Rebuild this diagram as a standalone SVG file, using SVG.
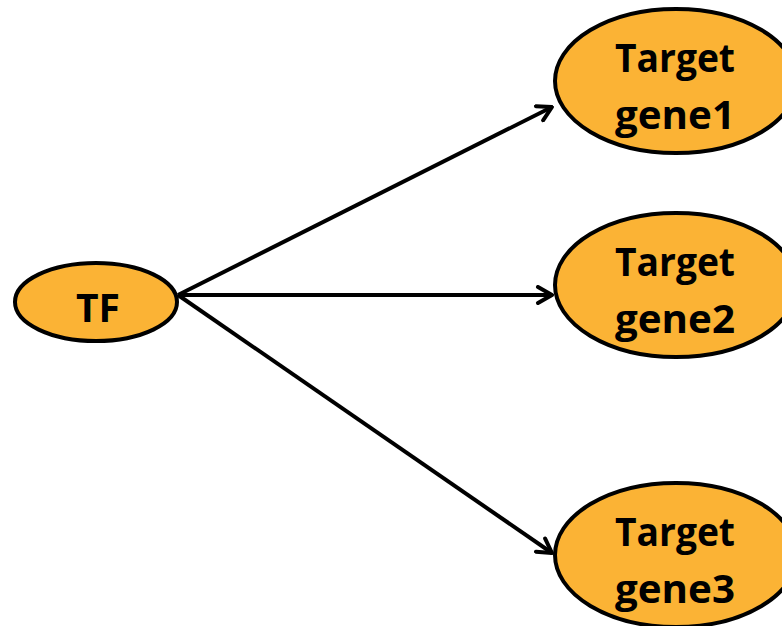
<svg xmlns="http://www.w3.org/2000/svg" width="782" height="626" viewBox="0 0 782 626">
<style>
.node{fill:#FBB335;stroke:#000;stroke-width:4}
.lbl{font-family:"Open Sans","Liberation Sans",sans-serif;font-weight:bold;font-size:40px;fill:#000;text-anchor:middle}
.edge{stroke:#000;stroke-width:4;fill:none}
</style>
<defs>
<marker id="arr" viewBox="0 0 20 20" refX="18" refY="10" markerWidth="20" markerHeight="20" markerUnits="userSpaceOnUse" orient="auto">
<path d="M4,2 L18,10 L4,18" fill="none" stroke="#000" stroke-width="4" stroke-linecap="round" stroke-linejoin="round"/>
</marker>
</defs>
<rect width="782" height="626" fill="#fff"/>
<g id="edges">
<line class="edge" x1="178" y1="295" x2="552" y2="107" marker-end="url(#arr)"/>
<line class="edge" x1="178" y1="295" x2="552" y2="295" marker-end="url(#arr)"/>
<line class="edge" x1="178" y1="295" x2="552" y2="553" marker-end="url(#arr)"/>
</g>
<g id="TF">
<ellipse class="node" cx="96" cy="302" rx="81" ry="39"/>
<text class="lbl" x="98" y="322" textLength="44" lengthAdjust="spacingAndGlyphs">TF</text>
</g>
<g id="target1">
<ellipse class="node" cx="676" cy="81" rx="121" ry="72"/>
<text class="lbl" x="675" y="72" textLength="120" lengthAdjust="spacingAndGlyphs">Target</text>
<text class="lbl" x="675" y="129" textLength="120" lengthAdjust="spacingAndGlyphs">gene1</text>
</g>
<g id="target2">
<ellipse class="node" cx="676" cy="285" rx="121" ry="72"/>
<text class="lbl" x="675" y="276" textLength="120" lengthAdjust="spacingAndGlyphs">Target</text>
<text class="lbl" x="675" y="333" textLength="120" lengthAdjust="spacingAndGlyphs">gene2</text>
</g>
<g id="target3">
<ellipse class="node" cx="676" cy="555" rx="121" ry="72"/>
<text class="lbl" x="675" y="546" textLength="120" lengthAdjust="spacingAndGlyphs">Target</text>
<text class="lbl" x="675" y="603" textLength="120" lengthAdjust="spacingAndGlyphs">gene3</text>
</g>
</svg>
